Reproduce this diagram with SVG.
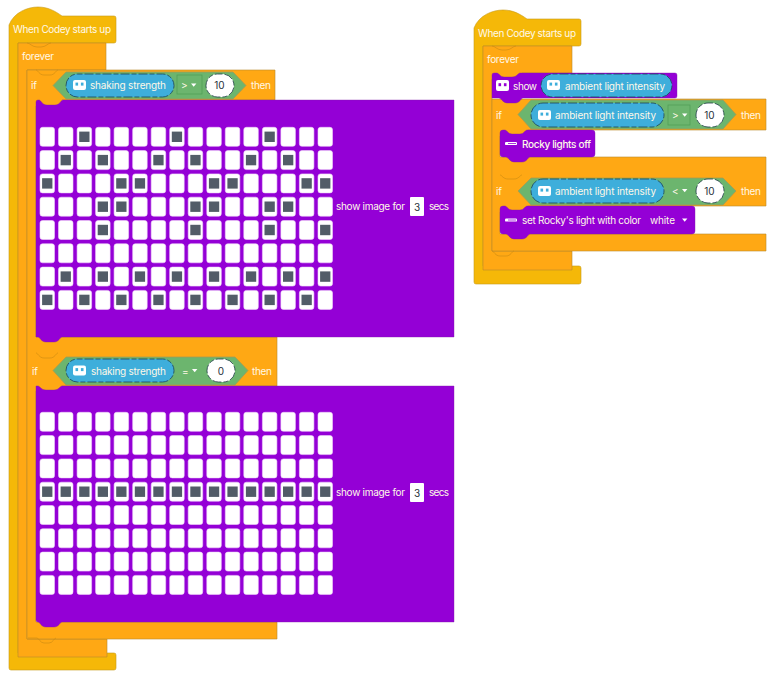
<svg xmlns="http://www.w3.org/2000/svg" xmlns:xlink="http://www.w3.org/1999/xlink" width="773" height="679" viewBox="0 0 773 679">
<style>
text{font-family:"Inter","Noto Sans","Liberation Sans",sans-serif;font-size:10px;fill:#fff8e8;dominant-baseline:central}
.hat{fill:#f5b808;stroke:#c79a1a;stroke-width:.6}
.or{fill:#ffa814;stroke:#b98a2c;stroke-width:.6}
.pu{fill:#9400d6;stroke:#7d1aa8;stroke-width:.4}
.hex{fill:#6cb56e;stroke:#a89a50;stroke-width:.8}
.pill{fill:#3eaedb;stroke:#1d4257;stroke-width:.8;stroke-dasharray:5 2 9 2}
.oval{fill:#fff;stroke:#1d3a44;stroke-width:.8;stroke-dasharray:5 2 9 2}
.op{fill:#6cb56e;stroke:#4f9a55;stroke-width:.7}
.seam{fill:none;stroke:#c98a12;stroke-width:.6}
.c{fill:#fff;stroke:#f0d4f8;stroke-width:.6}
.d{fill:#525c68;width:10.3px;height:10.4px}
.dk{fill:#26303a;font-size:10px}
.w{fill:#fff}
.e{fill:#3eaedb}
.ep{fill:#9400d6}
</style>
<defs>
<g id="row">
<rect class="c" x="40" width="14.5" height="19" rx="2.5"/><rect class="c" x="58.5" width="14.5" height="19" rx="2.5"/><rect class="c" x="77.1" width="14.5" height="19" rx="2.5"/><rect class="c" x="95.6" width="14.5" height="19" rx="2.5"/><rect class="c" x="114.1" width="14.5" height="19" rx="2.5"/><rect class="c" x="132.7" width="14.5" height="19" rx="2.5"/><rect class="c" x="151.2" width="14.5" height="19" rx="2.5"/><rect class="c" x="169.7" width="14.5" height="19" rx="2.5"/><rect class="c" x="188.2" width="14.5" height="19" rx="2.5"/><rect class="c" x="206.8" width="14.5" height="19" rx="2.5"/><rect class="c" x="225.3" width="14.5" height="19" rx="2.5"/><rect class="c" x="243.8" width="14.5" height="19" rx="2.5"/><rect class="c" x="262.4" width="14.5" height="19" rx="2.5"/><rect class="c" x="280.9" width="14.5" height="19" rx="2.5"/><rect class="c" x="299.4" width="14.5" height="19" rx="2.5"/><rect class="c" x="318" width="14.5" height="19" rx="2.5"/>
</g>
<g id="grid">
<use xlink:href="#row" href="#row" y="0"/><use xlink:href="#row" href="#row" y="23.3"/><use xlink:href="#row" href="#row" y="46.6"/><use xlink:href="#row" href="#row" y="69.9"/><use xlink:href="#row" href="#row" y="93.2"/><use xlink:href="#row" href="#row" y="116.5"/><use xlink:href="#row" href="#row" y="139.8"/><use xlink:href="#row" href="#row" y="163.1"/>
</g>
<g id="bot">
<rect class="w" x="0" y="0" width="13" height="10" rx="2"/><rect class="e" x="2.5" y="2.6" width="2.6" height="3"/><rect class="e" x="7.9" y="2.6" width="2.6" height="3"/>
</g>
<g id="bot2">
<rect class="w" x="0" y="0" width="13" height="11" rx="2"/><rect class="ep" x="2.5" y="3.2" width="2.6" height="3"/><rect class="ep" x="7.9" y="3.2" width="2.6" height="3"/>
</g>
<path id="tri" class="w" d="M0 0h5.4l-2.7 3.2z"/>
<g id="rk"><rect class="w" x="0" y="-1.6" width="12" height="3.2" rx="1.2"/><rect class="ep" x="3" y="-.4" width="8" height=".8"/></g>
</defs>

<g id="stack-left">
<g id="left-hat">
<path class="hat" d="M9 30V25C14 12 28 7 38 7C48 7 55 11 62 16H114q2 0 2 2V41q0 2-2 2H18V653H114q2 0 2 2v13q0 2-2 2H11q-2 0-2-2Z"/>
<text x="13" y="29" textLength="98">When Codey starts up</text>
</g>
<g id="left-forever">
<path class="or" d="M18 43H106V70H27V639H107V657H18Z"/>
<path class="seam" d="M27 43c3 0 5 4 10 4h4c5 0 7-4 10-4"/>
<text x="22" y="56" textLength="32">forever</text>
</g>
<g id="left-if">
<path class="or" d="M27 70H275V100H62V106H36V337H277V386H62V391H36V622H277V639H27Z"/>
<path class="seam" d="M36 70c2 0 3 5 8 5h6c5 0 6-5 8-5M36 353c2 0 3 5 8 5h6c5 0 6-5 8-5M28 638H37c2 0 3 5 7 5h5c4 0 5-5 7-5"/>
<text x="31" y="85" textLength="6">if</text>
<path class="hex" d="M53 85.5L66 72H233L246 85.5L233 99H66Z"/>
<rect class="pill" x="66" y="74" width="108" height="23" rx="11.5"/>
<use xlink:href="#bot" href="#bot" x="73" y="80"/>
<text x="90" y="85" textLength="76">shaking strength</text>
<rect class="op" x="177" y="75" width="25" height="19"/>
<text x="181" y="85">&gt;</text>
<use xlink:href="#tri" href="#tri" x="191" y="83.5"/>
<rect class="oval" x="206" y="74" width="28" height="23" rx="11.5"/>
<text class="dk" x="219.5" y="85" text-anchor="middle">10</text>
<text x="251" y="85" textLength="20">then</text>
</g>
<g id="left-show1">
<path class="pu" d="M36 102q0-2 2-2h1c2 0 3 5 8 5h8c5 0 6-5 8-5H454V337H62c-2 0-3 5-8 5h-8c-5 0-6-5-8-5h-2Z"/>
<use xlink:href="#grid" href="#grid" y="127.3"/>
<g>
<rect class="d" x="79.2" y="131.6"/><rect class="d" x="171.8" y="131.6"/><rect class="d" x="264.5" y="131.6"/>
<rect class="d" x="60.6" y="154.9"/><rect class="d" x="97.7" y="154.9"/><rect class="d" x="153.3" y="154.9"/><rect class="d" x="190.3" y="154.9"/><rect class="d" x="245.9" y="154.9"/><rect class="d" x="283" y="154.9"/>
<rect class="d" x="42.1" y="178.2"/><rect class="d" x="116.2" y="178.2"/><rect class="d" x="134.8" y="178.2"/><rect class="d" x="208.9" y="178.2"/><rect class="d" x="227.4" y="178.2"/><rect class="d" x="301.5" y="178.2"/><rect class="d" x="320.1" y="178.2"/>
<rect class="d" x="97.7" y="201.5"/><rect class="d" x="116.2" y="201.5"/><rect class="d" x="190.3" y="201.5"/><rect class="d" x="208.9" y="201.5"/><rect class="d" x="264.5" y="201.5"/><rect class="d" x="283" y="201.5"/>
<rect class="d" x="97.7" y="224.8"/><rect class="d" x="190.3" y="224.8"/><rect class="d" x="264.5" y="224.8"/><rect class="d" x="320.1" y="224.8"/>
<rect class="d" x="60.6" y="271.4"/><rect class="d" x="97.7" y="271.4"/><rect class="d" x="134.8" y="271.4"/><rect class="d" x="171.8" y="271.4"/><rect class="d" x="208.9" y="271.4"/><rect class="d" x="245.9" y="271.4"/><rect class="d" x="283" y="271.4"/><rect class="d" x="320.1" y="271.4"/>
<rect class="d" x="42.1" y="294.7"/><rect class="d" x="79.2" y="294.7"/><rect class="d" x="116.2" y="294.7"/><rect class="d" x="153.3" y="294.7"/><rect class="d" x="190.3" y="294.7"/><rect class="d" x="227.4" y="294.7"/><rect class="d" x="264.5" y="294.7"/><rect class="d" x="301.5" y="294.7"/>
</g>
<text x="336" y="206" textLength="69">show image for</text>
<rect class="w" x="410" y="197" width="14" height="19" rx="1"/>
<text class="dk" x="417" y="206.5" text-anchor="middle">3</text>
<text x="429" y="206" textLength="20">secs</text>
</g>
<g id="left-if2">
<text x="32" y="370.5" textLength="6">if</text>
<path class="hex" d="M53 370.5L66 357H235L248 370.5L235 385H66Z"/>
<rect class="pill" x="66" y="359" width="108" height="23" rx="11.5"/>
<use xlink:href="#bot" href="#bot" x="73" y="365.5"/>
<text x="91" y="370.5" textLength="75">shaking strength</text>
<text x="182" y="370.5">=</text>
<use xlink:href="#tri" href="#tri" x="192" y="369"/>
<rect class="oval" x="207" y="359" width="28" height="23" rx="11.5"/>
<text class="dk" x="221" y="370.5" text-anchor="middle">0</text>
<text x="252" y="370.5" textLength="20">then</text>
</g>
<g id="left-show2">
<path class="pu" d="M36 386H38c2 0 3 4 8 4h8c5 0 6-4 8-4H454V622H62c-2 0-3 5-8 5h-8c-5 0-6-5-8-5q-2 0-2-2Z"/>
<use xlink:href="#grid" href="#grid" y="412.3"/>
<g>
<rect class="d" x="42.1" y="486.5"/><rect class="d" x="60.6" y="486.5"/><rect class="d" x="79.2" y="486.5"/><rect class="d" x="97.7" y="486.5"/><rect class="d" x="116.2" y="486.5"/><rect class="d" x="134.8" y="486.5"/><rect class="d" x="153.3" y="486.5"/><rect class="d" x="171.8" y="486.5"/><rect class="d" x="190.3" y="486.5"/><rect class="d" x="208.9" y="486.5"/><rect class="d" x="227.4" y="486.5"/><rect class="d" x="245.9" y="486.5"/><rect class="d" x="264.5" y="486.5"/><rect class="d" x="283" y="486.5"/><rect class="d" x="301.5" y="486.5"/><rect class="d" x="320.1" y="486.5"/>
</g>
<text x="336" y="492" textLength="69">show image for</text>
<rect class="w" x="410" y="483" width="14" height="19" rx="1"/>
<text class="dk" x="417" y="492.5" text-anchor="middle">3</text>
<text x="429" y="492" textLength="20">secs</text>
</g>
</g>

<g id="stack-right">
<g id="right-hat">
<path class="hat" d="M474 33V28C479 15 493 10 503 10C513 10 520 14 527 19H579q2 0 2 2V44q0 2-2 2H483V266H579q2 0 2 2v14q0 2-2 2H476q-2 0-2-2Z"/>
<text x="478" y="33" textLength="98">When Codey starts up</text>
</g>
<g id="right-forever">
<path class="or" d="M483 46H572V73H522V79H492V251H572V270H483Z"/>
<path class="seam" d="M492 46c3 0 5 4 10 4h4c5 0 7-4 10-4"/>
<text x="487" y="59" textLength="32">forever</text>
</g>
<g id="right-if">
<path class="or" d="M492 99H766V130H528V136H500V157H766V206H528V212H500V234H766V251H492Z"/>
<path class="seam" d="M500 175c2 0 3 4 8 4h6c5 0 6-4 8-4M492 251c2 0 3 5 8 5h6c5 0 6-5 8-5"/>
<text x="496" y="115" textLength="6">if</text>
<path class="hex" d="M518 114.5L531 100H723L736 114.5L723 129H531Z"/>
<rect class="pill" x="531" y="103" width="133" height="24" rx="12"/>
<use xlink:href="#bot" href="#bot" x="538" y="110"/>
<text x="555" y="115" textLength="101">ambient light intensity</text>
<rect class="op" x="668" y="105" width="22" height="20"/>
<text x="672" y="115">&gt;</text>
<use xlink:href="#tri" href="#tri" x="682" y="113.5"/>
<rect class="oval" x="696" y="103" width="28" height="24" rx="12"/>
<text class="dk" x="709.5" y="115" text-anchor="middle">10</text>
<text x="741" y="115" textLength="20">then</text>
<text x="496" y="190.5" textLength="6">if</text>
<path class="hex" d="M518 191L531 178H723L736 191L723 205H531Z"/>
<rect class="pill" x="531" y="179" width="133" height="24" rx="12"/>
<use xlink:href="#bot" href="#bot" x="538" y="186"/>
<text x="555" y="190.5" textLength="101">ambient light intensity</text>
<text x="672" y="190.5">&lt;</text>
<use xlink:href="#tri" href="#tri" x="682" y="189"/>
<rect class="oval" x="696" y="179" width="28" height="24" rx="12"/>
<text class="dk" x="709.5" y="190.5" text-anchor="middle">10</text>
<text x="741" y="190.5" textLength="20">then</text>
</g>
<g id="right-show">
<path class="pu" d="M492 75q0-2 2-2h3c2 0 3 4 7 4h8c5 0 6-4 8-4H675q2 0 2 2V96q0 2-2 2H523c-2 0-3 5-8 5h-8c-4 0-6-5-8-5h-7Z"/>
<use xlink:href="#bot2" href="#bot2" x="496" y="80"/>
<text x="513" y="85.5" textLength="24">show</text>
<rect class="pill" x="541" y="74" width="131" height="23" rx="11.5"/>
<use xlink:href="#bot" href="#bot" x="547" y="80"/>
<text x="565" y="85.5" textLength="100">ambient light intensity</text>
</g>
<g id="right-off">
<path class="pu" d="M500 133q0-3 3-3H505c2 0 3 4 7 4h8c4 0 5-4 7-4H592q3 0 3 3V154q0 3-3 3H530c-2 0-3 5-8 5h-8c-4 0-6-5-8-5h-3q-3 0-3-3Z"/>
<use xlink:href="#rk" href="#rk" x="505" y="143.5"/>
<text x="522" y="143.5" textLength="69" style="font-weight:500">Rocky lights off</text>
</g>
<g id="right-set">
<path class="pu" d="M500 209q0-3 3-3H505c2 0 3 4 7 4h8c4 0 5-4 7-4H692q3 0 3 3V231q0 3-3 3H530c-2 0-3 5-8 5h-8c-4 0-6-5-8-5h-3q-3 0-3-3Z"/>
<use xlink:href="#rk" href="#rk" x="505" y="220"/>
<text x="522" y="220" textLength="119">set Rocky's light with color</text>
<text x="650" y="220" textLength="25">white</text>
<use xlink:href="#tri" href="#tri" x="682" y="218.5"/>
</g>
</g>
</svg>
